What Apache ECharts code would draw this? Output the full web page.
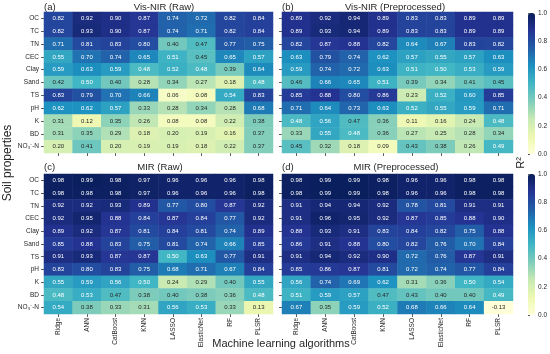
<!DOCTYPE html>
<html><head><meta charset="utf-8">
<script src="https://cdn.jsdelivr.net/npm/echarts@6/dist/echarts.min.js"></script>
<style>html,body{margin:0;padding:0;background:#fff}#c{width:550px;height:354px}</style>
</head><body><div id="c"></div>
<script>
const methods = ['Ridge','ANN','CatBoost','KNN','LASSO','ElasticNet','RF','PLSR'];
const properties = ['OC','TC','TN','CEC','Clay','Sand','TS','pH','K','BD','NO\u2083\u207B-N'];
const panelTitles = ['Vis-NIR (Raw)','Vis-NIR (Preprocessed)','MIR (Raw)','MIR (Preprocessed)'];
const panelTags = ['(a)','(b)','(c)','(d)'];

const visNirRaw = [
 [0.82,0.92,0.90,0.87,0.74,0.72,0.82,0.84],
 [0.82,0.93,0.90,0.87,0.74,0.71,0.82,0.84],
 [0.71,0.81,0.83,0.80,0.40,0.47,0.77,0.75],
 [0.55,0.70,0.74,0.65,0.51,0.45,0.65,0.57],
 [0.59,0.63,0.59,0.48,0.52,0.48,0.39,0.64],
 [0.42,0.50,0.40,0.28,0.34,0.27,0.18,0.48],
 [0.83,0.79,0.70,0.66,0.06,0.08,0.54,0.83],
 [0.62,0.62,0.57,0.33,0.28,0.34,0.28,0.68],
 [0.31,0.12,0.35,0.26,0.08,0.08,0.22,0.38],
 [0.31,0.35,0.29,0.18,0.20,0.19,0.16,0.37],
 [0.20,0.41,0.20,0.19,0.19,0.18,0.22,0.37]
];
const visNirPre = [
 [0.89,0.92,0.94,0.89,0.83,0.83,0.89,0.89],
 [0.89,0.93,0.94,0.89,0.83,0.83,0.89,0.89],
 [0.82,0.87,0.88,0.82,0.64,0.67,0.83,0.82],
 [0.63,0.79,0.74,0.62,0.57,0.55,0.57,0.63],
 [0.59,0.74,0.72,0.63,0.51,0.50,0.53,0.59],
 [0.46,0.66,0.65,0.51,0.39,0.34,0.41,0.45],
 [0.85,0.88,0.80,0.86,0.23,0.52,0.60,0.85],
 [0.71,0.64,0.73,0.63,0.52,0.55,0.59,0.71],
 [0.48,0.56,0.47,0.36,0.11,0.16,0.24,0.48],
 [0.33,0.55,0.48,0.36,0.27,0.25,0.28,0.34],
 [0.45,0.32,0.18,0.09,0.43,0.38,0.26,0.49]
];
const mirRaw = [
 [0.98,0.99,0.98,0.97,0.96,0.96,0.96,0.98],
 [0.98,0.98,0.98,0.97,0.96,0.96,0.96,0.98],
 [0.92,0.92,0.93,0.89,0.77,0.80,0.87,0.92],
 [0.92,0.95,0.88,0.84,0.87,0.84,0.77,0.92],
 [0.89,0.92,0.87,0.81,0.84,0.81,0.74,0.89],
 [0.85,0.88,0.83,0.75,0.81,0.74,0.66,0.85],
 [0.91,0.93,0.87,0.87,0.50,0.63,0.77,0.91],
 [0.83,0.80,0.83,0.75,0.68,0.71,0.67,0.84],
 [0.55,0.59,0.56,0.50,0.24,0.29,0.40,0.55],
 [0.48,0.53,0.47,0.38,0.40,0.38,0.36,0.48],
 [0.54,0.38,0.33,0.31,0.56,0.53,0.33,0.13]
];
const mirPre = [
 [0.98,0.99,0.99,0.98,0.96,0.96,0.98,0.98],
 [0.98,0.99,0.99,0.98,0.96,0.96,0.98,0.98],
 [0.91,0.94,0.94,0.92,0.78,0.81,0.91,0.91],
 [0.91,0.96,0.95,0.92,0.87,0.85,0.88,0.90],
 [0.88,0.93,0.91,0.83,0.84,0.82,0.75,0.88],
 [0.86,0.91,0.88,0.80,0.82,0.76,0.70,0.84],
 [0.91,0.94,0.92,0.90,0.72,0.76,0.87,0.91],
 [0.85,0.86,0.87,0.81,0.72,0.74,0.77,0.84],
 [0.56,0.74,0.69,0.62,0.31,0.36,0.50,0.54],
 [0.51,0.59,0.57,0.47,0.43,0.40,0.40,0.49],
 [0.67,0.35,0.59,0.52,0.68,0.66,0.64,-0.13]
];
const panels = [visNirRaw, visNirPre, mirRaw, mirPre];

const YLGNBU = ['#ffffd9','#edf8b1','#c7e9b4','#7fcdbb','#41b6c4','#1d91c0','#225ea8','#253494','#081d58'];
const FONT = 'Liberation Sans, Arial, sans-serif';
function hex(h){ return [1,3,5].map(i=>parseInt(h.substr(i,2),16)); }
function interp(v){ v=Math.max(0,Math.min(1,v)); const p=v*8; const i=Math.min(7,Math.floor(p)); const t=p-i;
  const a=hex(YLGNBU[i]), b=hex(YLGNBU[i+1]); return a.map((x,k)=>x+(b[k]-x)*t); }
function lum(rgb){ const l=rgb.map(c=>{c/=255; return c<=0.03928?c/12.92:Math.pow((c+0.055)/1.055,2.4);});
  return 0.2126*l[0]+0.7152*l[1]+0.0722*l[2]; }
function textColor(v){ return lum(interp(v))>0.408 ? '#262626' : '#ffffff'; }

const grids = [
 {left:44, top:12, width:229, height:141},
 {left:282, top:12, width:231, height:141},
 {left:44, top:174, width:229, height:140},
 {left:282, top:174, width:231, height:140},
 {left:528, top:13, width:7, height:141},
 {left:528, top:174, width:7, height:141}
];
const tickStyle = {show:true, alignWithLabel:true, length:3, lineStyle:{color:'#333', width:0.8}};
const xAxes = [], yAxes = [], series = [];
for (let i=0;i<4;i++){
  xAxes.push({type:'category', gridIndex:i, data:methods, axisLine:{show:false}, axisTick:tickStyle,
    splitLine:{show:false},
    axisLabel:{show:i>=2, rotate:90, fontSize:6.5, margin:4, color:'#262626', fontFamily:FONT}});
  yAxes.push({type:'category', gridIndex:i, data:properties, inverse:true, axisLine:{show:false}, axisTick:tickStyle,
    splitLine:{show:false},
    axisLabel:{show:i%2===0, fontSize:6.5, margin:5, color:'#262626', fontFamily:FONT}});
  const data = [];
  panels[i].forEach((row,r)=>row.forEach((v,c)=>{
    data.push({value:[c,r,v], label:{color:textColor(v)}});
  }));
  series.push({type:'heatmap', xAxisIndex:i, yAxisIndex:i, data:data,
    itemStyle:{borderWidth:0},
    label:{show:true, fontSize:6, fontFamily:FONT, formatter:p=>p.value[2].toFixed(2)},
    emphasis:{disabled:true}});
}
for (let k=4;k<6;k++){
  xAxes.push({type:'value', gridIndex:k, min:0, max:1, show:false});
  yAxes.push({type:'value', gridIndex:k, min:0, max:1, interval:0.2, position:'right',
    axisLine:{show:false}, splitLine:{show:false},
    axisTick:{show:true, length:2, lineStyle:{color:'#333', width:0.8}},
    axisLabel:{fontSize:6.5, margin:3, color:'#262626', fontFamily:FONT, formatter:v=>v.toFixed(1)}});
}
const vm = (idx, top)=>({type:'continuous', min:0, max:1, seriesIndex:idx, calculable:false,
  inRange:{color:YLGNBU}, outOfRange:{color:'#ffffd9'}, left:528, top:top, itemWidth:7, itemHeight:141,
  padding:0, showLabel:false, text:null, orient:'vertical'});

const titlePos = [[44,164],[282,395],[44,160],[282,396]];
const titleY = [7,7,167,167];
const graphic = [];
for (let i=0;i<4;i++){
  graphic.push({type:'text', x:titlePos[i][0], y:titleY[i], style:{text:panelTags[i], fontSize:9.5, fontFamily:FONT, fill:'#262626', textAlign:'left', textVerticalAlign:'middle'}});
  graphic.push({type:'text', x:titlePos[i][1], y:titleY[i], style:{text:panelTitles[i], fontSize:9.5, fontFamily:FONT, fill:'#262626', textAlign:'center', textVerticalAlign:'middle'}});
}
graphic.push({type:'text', x:8, y:163, rotation:Math.PI/2, style:{text:'Soil properties', fontSize:12, fontFamily:FONT, fill:'#262626', textAlign:'center', textVerticalAlign:'middle'}});
graphic.push({type:'text', x:281, y:344, style:{text:'Machine learning algorithms', fontSize:11, fontFamily:FONT, fill:'#262626', textAlign:'center', textVerticalAlign:'middle'}});
graphic.push({type:'text', x:521, y:163, rotation:Math.PI/2, style:{text:'R\u00B2', fontSize:11, fontFamily:FONT, fill:'#262626', textAlign:'center', textVerticalAlign:'middle'}});

const chart = echarts.init(document.getElementById('c'), null, {renderer:'canvas'});
chart.setOption({
  animation:false, backgroundColor:'#fff',
  textStyle:{fontFamily:FONT},
  grid:grids, xAxis:xAxes, yAxis:yAxes,
  visualMap:[vm([0,1],13), vm([2,3],174)],
  series:series, graphic:graphic
});
</script></body></html>
